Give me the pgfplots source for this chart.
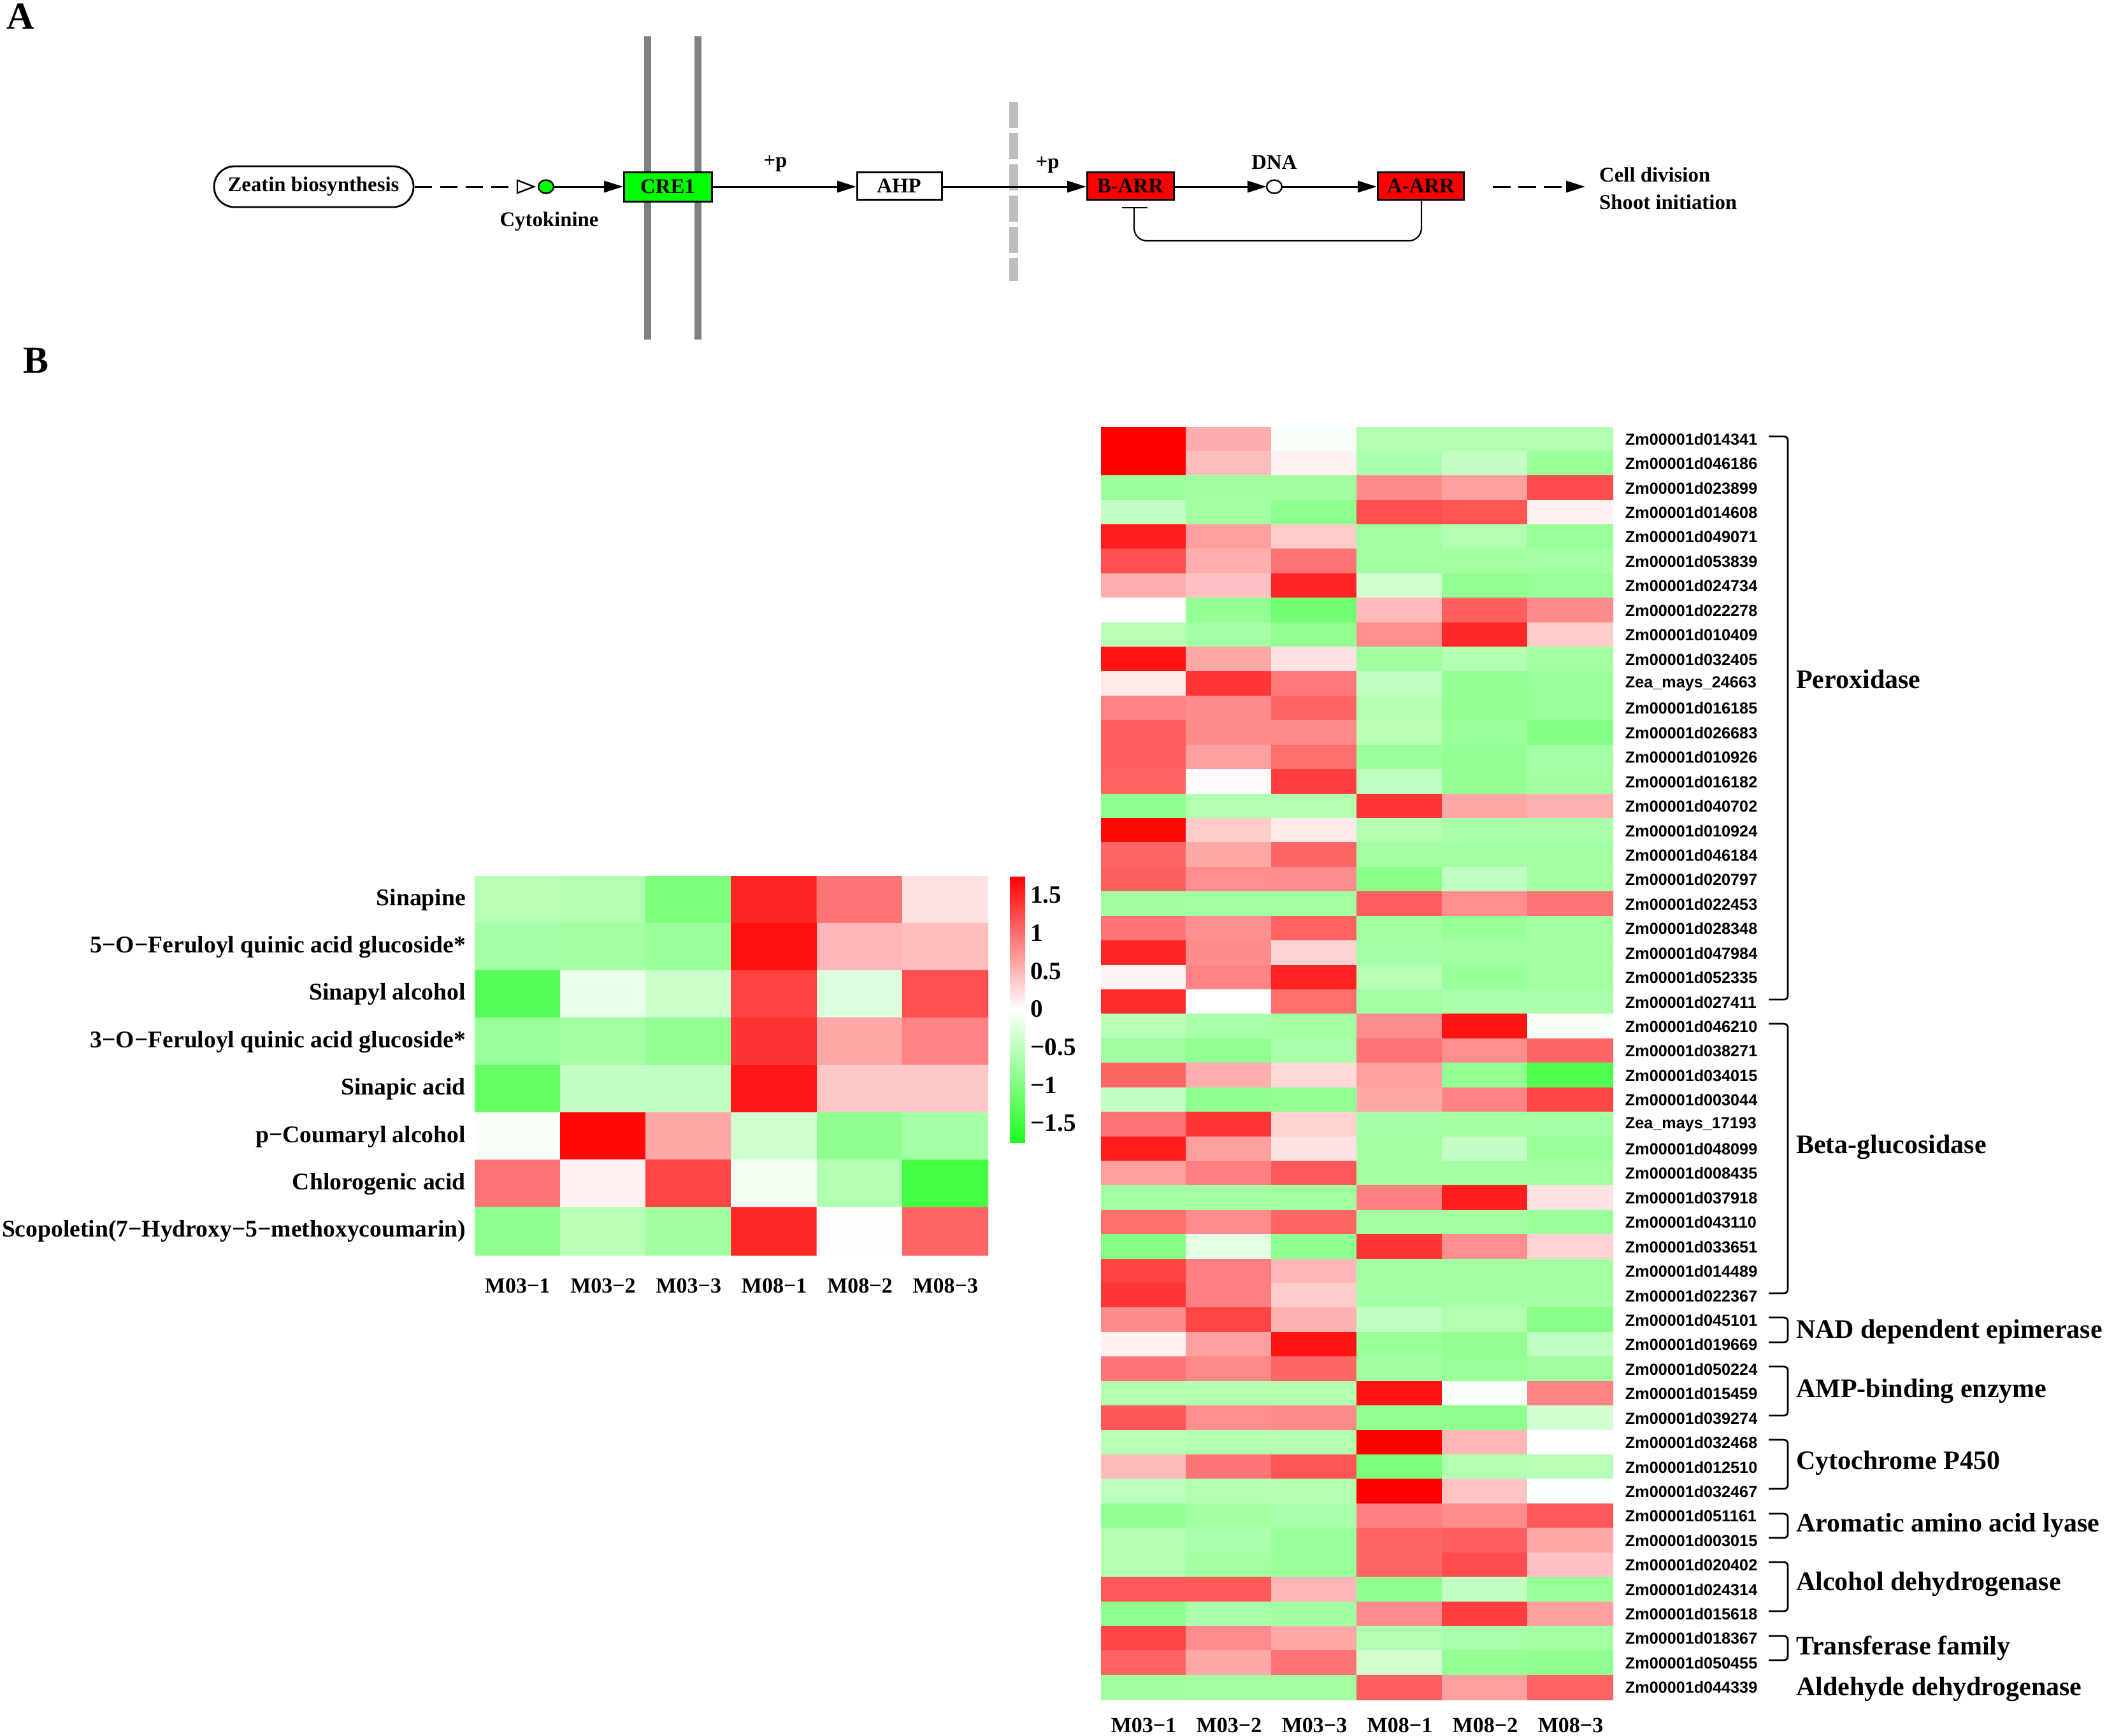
\documentclass[border=0pt]{standalone}
\usepackage{fontspec}
\setmainfont{Liberation Serif}
\newfontfamily\gsans{Liberation Sans}
\usepackage{pgfplots}
\pgfplotsset{compat=1.18}
\usetikzlibrary{arrows.meta}

\newcommand{\ft}[1]{\fontsize{#1}{#1}\selectfont}
\definecolor{memb}{RGB}{128,128,128}
\definecolor{lgray}{RGB}{190,190,190}
\definecolor{kgreen}{RGB}{0,255,0}
\definecolor{kred}{RGB}{255,0,0}

\pgfplotsset{
  colormap={gwr}{rgb255=(30,255,30) rgb255=(255,255,255) rgb255=(255,0,0)},
  heat/.style={
    scale only axis, enlargelimits=false, y dir=reverse,
    xmin=-0.5, xmax=5.5,
    axis line style={draw=none}, major tick length=0pt,
    point meta min=-1.75, point meta max=1.75,
    xtick={0,...,5},
    xticklabels={M03−1,M03−2,M03−3,M08−1,M08−2,M08−3},
    xticklabel style={font=\bfseries\ft{8.5}},
  },
}

\begin{document}
\begin{tikzpicture}

% ---- panel A: pathway ----
\begin{scope}[x=0.25pt,y=-0.25pt,font=\bfseries\ft{8.2}]
\node[font=\bfseries\ft{15}] at (32,26) {A};
\node[font=\bfseries\ft{15}] at (57,566) {B};
\draw[memb,line width=2.75pt] (1016,57) -- (1016,533);
\draw[memb,line width=2.75pt] (1095,57) -- (1095,533);
\draw[lgray,line width=3.5pt,dash pattern=on 10.25pt off 2pt] (1591,160) -- (1591,441);

\draw[line width=0.7pt,rounded corners=8pt] (336,261) rectangle (649,325);
\node at (492,293) {Zeatin biosynthesis};
\draw[line width=0.75pt,dash pattern=on 6.75pt off 3.25pt] (651,293) -- (812,293);
\draw[line width=0.6pt,fill=white] (812,283) -- (838,293) -- (812,303) -- cycle;
\draw[line width=0.6pt,fill=kgreen] (857,293) ellipse [x radius=3pt,y radius=2.6pt];
\node at (862,348) {Cytokinine};
\draw[line width=0.75pt,-{Triangle[length=7.5pt,width=4.5pt]}] (868,293) -- (978,293);

\draw[line width=0.75pt,fill=kgreen] (979,270) rectangle (1117,316);
\node at (1048,293) {CRE1};
\draw[line width=0.75pt,-{Triangle[length=7.5pt,width=4.5pt]}] (1117,293) -- (1344,293);
\node at (1217,257) {+p};
\draw[line width=0.75pt,fill=white] (1345,270) rectangle (1478,313);
\node at (1411,292) {AHP};
\draw[line width=0.75pt,-{Triangle[length=7.5pt,width=4.5pt]}] (1478,293) -- (1705,293);
\node at (1644,259) {+p};
\draw[line width=0.75pt,fill=kred] (1706,270) rectangle (1842,313);
\node at (1774,292) {B-ARR};
\draw[line width=0.75pt,-{Triangle[length=7.5pt,width=4.5pt]}] (1842,293) -- (1988,293);
\draw[line width=0.6pt,fill=white] (2000,293) ellipse [x radius=3pt,y radius=2.6pt];
\node at (2000,255) {DNA};
\draw[line width=0.75pt,-{Triangle[length=7.5pt,width=4.5pt]}] (2013,293) -- (2161,293);
\draw[line width=0.75pt,fill=kred] (2162,270) rectangle (2297,313);
\node at (2230,292) {A-ARR};
\draw[line width=0.75pt,dash pattern=on 7pt off 3pt,-{Triangle[length=7.5pt,width=4.5pt]}] (2343,293) -- (2488,293);
\node[anchor=west] at (2496,274) {Cell division};
\node[anchor=west] at (2496,317) {Shoot initiation};
\draw[line width=0.55pt,rounded corners=5pt] (2231,313) -- (2231,378) -- (1780,378) -- (1780,326);
\draw[line width=0.55pt] (1761,326) -- (1801,326);
\end{scope}

% ---- panel B, left: metabolites ----
\begin{axis}[heat,
  at={(186.25pt,-343.75pt)}, anchor=north west,
  width=201.5pt, height=148.75pt,
  ymin=-0.5, ymax=7.5, ytick={0,...,7},
  yticklabels={Sinapine,5−O−Feruloyl quinic acid glucoside*,Sinapyl alcohol,3−O−Feruloyl quinic acid glucoside*,Sinapic acid,p−Coumaryl alcohol,Chlorogenic acid,Scopoletin(7−Hydroxy−5−methoxycoumarin)},
  yticklabel style={font=\bfseries\ft{9.4}},
  xticklabel style={yshift=-5.75pt},
  colorbar,
  colorbar style={
    at={(parent axis.north east)}, anchor=north west, xshift=0pt,
    scale only axis, width=6pt, height=104.5pt,
    ytick={-1.5,-1,-0.5,0,0.5,1,1.5},
    yticklabels={−1.5,−1,−0.5,0,0.5,1,1.5},
    yticklabel style={font=\bfseries\ft{9.8}, xshift=-1.5pt},
    major tick length=0pt, axis line style={draw=none},
  },
]
\addplot[matrix plot*, mesh/cols=6, point meta=explicit] table[row sep=\\, meta index=2] {
0 0 -0.55\\ 1 0 -0.6\\ 2 0 -1.0\\ 3 0 1.5\\ 4 0 0.95\\ 5 0 0.2\\
0 1 -0.7\\ 1 1 -0.72\\ 2 1 -0.78\\ 3 1 1.65\\ 4 1 0.5\\ 5 1 0.45\\
0 2 -1.3\\ 1 2 -0.15\\ 2 2 -0.4\\ 3 2 1.3\\ 4 2 -0.27\\ 5 2 1.2\\
0 3 -0.8\\ 1 3 -0.72\\ 2 3 -0.83\\ 3 3 1.4\\ 4 3 0.6\\ 5 3 0.85\\
0 4 -1.2\\ 1 4 -0.45\\ 2 4 -0.47\\ 3 4 1.6\\ 4 4 0.38\\ 5 4 0.38\\
0 5 -0.05\\ 1 5 1.7\\ 2 5 0.6\\ 3 5 -0.35\\ 4 5 -0.87\\ 5 5 -0.7\\
0 6 0.95\\ 1 6 0.1\\ 2 6 1.27\\ 3 6 -0.1\\ 4 6 -0.6\\ 5 6 -1.45\\
0 7 -0.87\\ 1 7 -0.55\\ 2 7 -0.73\\ 3 7 1.48\\ 4 7 0.01\\ 5 7 1.05\\
};
\end{axis}

% ---- panel B, right: genes ----
\begin{axis}[heat,
  at={(432pt,-167.5pt)}, anchor=north west,
  width=201pt, height=499.5pt,
  ymin=-0.5, ymax=51.5, ytick={0,...,51},
  yticklabel pos=right,
  yticklabels={Zm00001d014341,Zm00001d046186,Zm00001d023899,Zm00001d014608,Zm00001d049071,Zm00001d053839,Zm00001d024734,Zm00001d022278,Zm00001d010409,Zm00001d032405,Zea\_mays\_24663,Zm00001d016185,Zm00001d026683,Zm00001d010926,Zm00001d016182,Zm00001d040702,Zm00001d010924,Zm00001d046184,Zm00001d020797,Zm00001d022453,Zm00001d028348,Zm00001d047984,Zm00001d052335,Zm00001d027411,Zm00001d046210,Zm00001d038271,Zm00001d034015,Zm00001d003044,Zea\_mays\_17193,Zm00001d048099,Zm00001d008435,Zm00001d037918,Zm00001d043110,Zm00001d033651,Zm00001d014489,Zm00001d022367,Zm00001d045101,Zm00001d019669,Zm00001d050224,Zm00001d015459,Zm00001d039274,Zm00001d032468,Zm00001d012510,Zm00001d032467,Zm00001d051161,Zm00001d003015,Zm00001d020402,Zm00001d024314,Zm00001d015618,Zm00001d018367,Zm00001d050455,Zm00001d044339},
  yticklabel style={font=\gsans\bfseries\ft{6.3}, xshift=1.2pt},
  xticklabel style={yshift=-3.75pt},
]
\addplot[matrix plot*, mesh/cols=6, point meta=explicit] table[row sep=\\, meta index=2] {
0 0 1.75\\ 1 0 0.57\\ 2 0 -0.05\\ 3 0 -0.6\\ 4 0 -0.6\\ 5 0 -0.6\\
0 1 1.75\\ 1 1 0.45\\ 2 1 0.1\\ 3 1 -0.65\\ 4 1 -0.45\\ 5 1 -0.78\\
0 2 -0.78\\ 1 2 -0.73\\ 2 2 -0.73\\ 3 2 0.8\\ 4 2 0.65\\ 5 2 1.22\\
0 3 -0.45\\ 1 3 -0.72\\ 2 3 -0.87\\ 3 3 1.2\\ 4 3 1.17\\ 5 3 0.1\\
0 4 1.55\\ 1 4 0.65\\ 2 4 0.35\\ 3 4 -0.72\\ 4 4 -0.6\\ 5 4 -0.8\\
0 5 1.2\\ 1 5 0.56\\ 2 5 0.95\\ 3 5 -0.72\\ 4 5 -0.72\\ 5 5 -0.7\\
0 6 0.56\\ 1 6 0.43\\ 2 6 1.5\\ 3 6 -0.35\\ 4 6 -0.85\\ 5 6 -0.8\\
0 7 0\\ 1 7 -0.83\\ 2 7 -1.1\\ 3 7 0.47\\ 4 7 1.1\\ 5 7 0.8\\
0 8 -0.55\\ 1 8 -0.7\\ 2 8 -0.85\\ 3 8 0.77\\ 4 8 1.48\\ 5 8 0.35\\
0 9 1.62\\ 1 9 0.6\\ 2 9 0.2\\ 3 9 -0.73\\ 4 9 -0.6\\ 5 9 -0.72\\
0 10 0.15\\ 1 10 1.38\\ 2 10 0.92\\ 3 10 -0.5\\ 4 10 -0.83\\ 5 10 -0.78\\
0 11 0.85\\ 1 11 0.8\\ 2 11 1.05\\ 3 11 -0.6\\ 4 11 -0.85\\ 5 11 -0.8\\
0 12 1.1\\ 1 12 0.8\\ 2 12 0.82\\ 3 12 -0.55\\ 4 12 -0.78\\ 5 12 -0.95\\
0 13 1.1\\ 1 13 0.65\\ 2 13 1.0\\ 3 13 -0.78\\ 4 13 -0.83\\ 5 13 -0.7\\
0 14 1.07\\ 1 14 0.03\\ 2 14 1.32\\ 3 14 -0.5\\ 4 14 -0.83\\ 5 14 -0.73\\
0 15 -0.87\\ 1 15 -0.6\\ 2 15 -0.6\\ 3 15 1.38\\ 4 15 0.6\\ 5 15 0.54\\
0 16 1.7\\ 1 16 0.35\\ 2 16 0.15\\ 3 16 -0.6\\ 4 16 -0.65\\ 5 16 -0.65\\
0 17 1.05\\ 1 17 0.6\\ 2 17 1.05\\ 3 17 -0.72\\ 4 17 -0.72\\ 5 17 -0.72\\
0 18 1.1\\ 1 18 0.77\\ 2 18 0.79\\ 3 18 -0.9\\ 4 18 -0.5\\ 5 18 -0.72\\
0 19 -0.73\\ 1 19 -0.72\\ 2 19 -0.72\\ 3 19 1.1\\ 4 19 0.77\\ 5 19 0.95\\
0 20 0.95\\ 1 20 0.77\\ 2 20 1.07\\ 3 20 -0.72\\ 4 20 -0.8\\ 5 20 -0.72\\
0 21 1.5\\ 1 21 0.8\\ 2 21 0.3\\ 3 21 -0.7\\ 4 21 -0.72\\ 5 21 -0.72\\
0 22 0.07\\ 1 22 0.85\\ 2 22 1.52\\ 3 22 -0.55\\ 4 22 -0.78\\ 5 22 -0.72\\
0 23 1.45\\ 1 23 0\\ 2 23 1.0\\ 3 23 -0.72\\ 4 23 -0.65\\ 5 23 -0.65\\
0 24 -0.55\\ 1 24 -0.65\\ 2 24 -0.72\\ 3 24 0.79\\ 4 24 1.63\\ 5 24 -0.05\\
0 25 -0.73\\ 1 25 -0.85\\ 2 25 -0.65\\ 3 25 0.95\\ 4 25 0.77\\ 5 25 1.05\\
0 26 1.05\\ 1 26 0.56\\ 2 26 0.27\\ 3 26 0.65\\ 4 26 -0.83\\ 5 26 -1.35\\
0 27 -0.45\\ 1 27 -0.87\\ 2 27 -0.83\\ 3 27 0.6\\ 4 27 0.85\\ 5 27 1.27\\
0 28 0.95\\ 1 28 1.38\\ 2 28 0.32\\ 3 28 -0.7\\ 4 28 -0.72\\ 5 28 -0.7\\
0 29 1.55\\ 1 29 0.65\\ 2 29 0.2\\ 3 29 -0.72\\ 4 29 -0.45\\ 5 29 -0.8\\
0 30 0.65\\ 1 30 0.87\\ 2 30 1.15\\ 3 30 -0.72\\ 4 30 -0.72\\ 5 30 -0.72\\
0 31 -0.72\\ 1 31 -0.72\\ 2 31 -0.72\\ 3 31 0.87\\ 4 31 1.55\\ 5 31 0.2\\
0 32 1.0\\ 1 32 0.79\\ 2 32 1.05\\ 3 32 -0.72\\ 4 32 -0.72\\ 5 32 -0.78\\
0 33 -0.93\\ 1 33 -0.2\\ 2 33 -0.87\\ 3 33 1.38\\ 4 33 0.77\\ 5 33 0.3\\
0 34 1.3\\ 1 34 0.87\\ 2 34 0.5\\ 3 34 -0.72\\ 4 34 -0.72\\ 5 34 -0.72\\
0 35 1.38\\ 1 35 0.87\\ 2 35 0.35\\ 3 35 -0.7\\ 4 35 -0.7\\ 5 35 -0.7\\
0 36 0.8\\ 1 36 1.27\\ 2 36 0.54\\ 3 36 -0.5\\ 4 36 -0.6\\ 5 36 -0.92\\
0 37 0.1\\ 1 37 0.65\\ 2 37 1.62\\ 3 37 -0.78\\ 4 37 -0.83\\ 5 37 -0.47\\
0 38 0.95\\ 1 38 0.82\\ 2 38 1.05\\ 3 38 -0.73\\ 4 38 -0.8\\ 5 38 -0.73\\
0 39 -0.6\\ 1 39 -0.6\\ 2 39 -0.6\\ 3 39 1.63\\ 4 39 -0.05\\ 5 39 0.85\\
0 40 1.17\\ 1 40 0.77\\ 2 40 0.82\\ 3 40 -0.85\\ 4 40 -0.87\\ 5 40 -0.35\\
0 41 -0.55\\ 1 41 -0.6\\ 2 41 -0.6\\ 3 41 1.75\\ 4 41 0.5\\ 5 41 0\\
0 42 0.47\\ 1 42 0.95\\ 2 42 1.17\\ 3 42 -1.0\\ 4 42 -0.6\\ 5 42 -0.55\\
0 43 -0.52\\ 1 43 -0.6\\ 2 43 -0.6\\ 3 43 1.75\\ 4 43 0.4\\ 5 43 -0.03\\
0 44 -0.85\\ 1 44 -0.72\\ 2 44 -0.65\\ 3 44 0.87\\ 4 44 0.79\\ 5 44 1.15\\
0 45 -0.6\\ 1 45 -0.65\\ 2 45 -0.78\\ 3 45 1.05\\ 4 45 1.1\\ 5 45 0.6\\
0 46 -0.6\\ 1 46 -0.72\\ 2 46 -0.78\\ 3 46 1.05\\ 4 46 1.22\\ 5 46 0.43\\
0 47 1.15\\ 1 47 1.15\\ 2 47 0.5\\ 3 47 -0.87\\ 4 47 -0.47\\ 5 47 -0.8\\
0 48 -0.87\\ 1 48 -0.65\\ 2 48 -0.73\\ 3 48 0.79\\ 4 48 1.32\\ 5 48 0.65\\
0 49 1.27\\ 1 49 0.79\\ 2 49 0.6\\ 3 49 -0.6\\ 4 49 -0.65\\ 5 49 -0.72\\
0 50 1.07\\ 1 50 0.6\\ 2 50 0.95\\ 3 50 -0.35\\ 4 50 -0.83\\ 5 50 -0.87\\
0 51 -0.73\\ 1 51 -0.72\\ 2 51 -0.72\\ 3 51 1.1\\ 4 51 0.65\\ 5 51 1.07\\
};
\end{axis}

% ---- brackets and gene family names ----
\begin{scope}[x=0.25pt,y=-0.25pt,font=\bfseries\ft{10.5}]
\foreach \ya/\yb in {685/1569,1607/2030,2068/2107,2145/2222,2260/2337,2376/2414,2452/2529,2568/2606}
  \draw[line width=0.7pt,rounded corners=1.5pt] (2776,\ya) -- (2806,\ya) -- (2806,\yb) -- (2776,\yb);
\node[anchor=west] at (2805,1066) {Peroxidase};
\node[anchor=west] at (2805,1801) {Beta-glucosidase};
\node[anchor=west] at (2805,2090) {NAD dependent epimerase};
\node[anchor=west] at (2805,2184) {AMP-binding enzyme};
\node[anchor=west] at (2805,2296) {Cytochrome P450};
\node[anchor=west] at (2805,2394) {Aromatic amino acid lyase};
\node[anchor=west] at (2805,2487) {Alcohol dehydrogenase};
\node[anchor=west] at (2805,2587) {Transferase family};
\node[anchor=west] at (2805,2652) {Aldehyde dehydrogenase};
\end{scope}

\pgfresetboundingbox
\useasboundingbox (0,0) rectangle (826.75pt,-681pt);
\end{tikzpicture}
\end{document}
